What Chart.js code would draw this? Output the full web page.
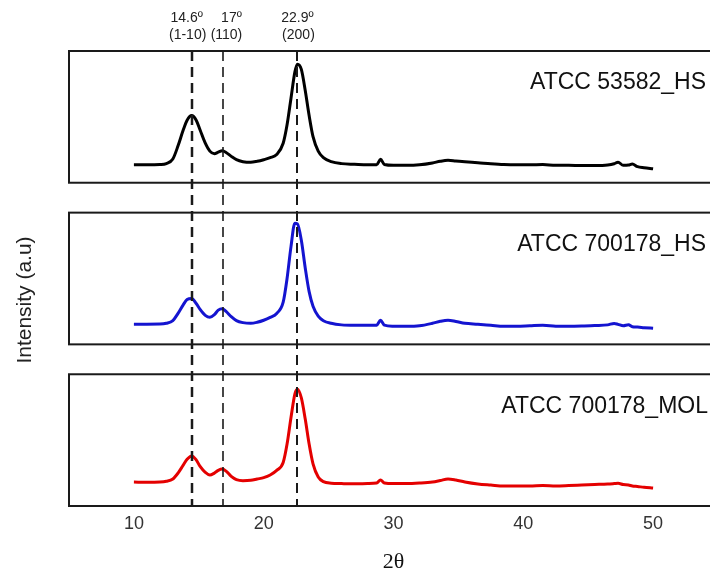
<!DOCTYPE html>
<html>
<head>
<meta charset="utf-8">
<script src="https://cdn.jsdelivr.net/npm/chart.js@4.4.1/dist/chart.umd.min.js"></script>
<style>
  html, body { margin: 0; padding: 0; background: #fff; overflow: hidden; }
  #wrap { width: 710px; height: 572px; overflow: hidden; }
</style>
</head>
<body>
<div id="wrap"><canvas id="xrd" width="740" height="572"></canvas></div>
<script>
// 2θ positions (degrees) shared by the three diffractograms
const twoTheta = [10, 11, 12, 12.5, 13, 13.4, 13.8, 14.1, 14.45, 14.8, 15.1, 15.5, 15.85, 16.2, 16.5, 16.8, 17.1, 17.5, 17.9, 18.4,
  19, 19.5, 20, 20.5, 21, 21.5, 21.8, 22.1, 22.4, 22.6, 22.9, 23.2, 23.5, 23.8, 24.2, 24.6, 25.2, 26, 27, 28,
  28.7, 29, 29.3, 30, 31, 32, 33, 33.6, 34.2, 34.8, 35.5, 36.5, 37.5, 38.5, 39.5, 40.5, 41.5, 42.5, 43.5, 44.5,
  45.5, 46.5, 47, 47.3, 47.7, 48.1, 48.4, 48.8, 49.3, 50]

// intensities (a.u.), each panel scaled 0-100
const hs53582 = [13.6, 13.6, 13.8, 14.5, 18, 28, 40, 47.5, 51, 47.5, 40, 30, 24, 22, 23.2, 24.2, 23, 20, 17.5, 16,
  15.5, 16.3, 17.5, 19, 21.5, 30, 44, 64, 84, 90, 86, 70, 51, 35, 24, 19, 16, 14.5, 14, 13.6,
  13.6, 17.8, 13.8, 13.2, 13.2, 13.6, 15, 16.3, 17, 16.5, 15.9, 15.2, 14.4, 13.8, 13.6, 13.6, 13.8, 13.2, 13.2, 13,
  13, 13.4, 14.4, 15.6, 13.2, 13.4, 14.2, 12.2, 11.4, 10.6]
const hs700178 = [15.3, 15.3, 15.4, 16, 18, 23.5, 30, 34, 34.8, 31, 26.5, 22, 20.5, 22.5, 26, 27, 25, 21, 18, 16.5,
  16, 16.8, 18.3, 20.5, 23.5, 32, 50, 74, 92, 91.5, 79, 58, 40, 29, 21.5, 18, 16, 14.8, 14.5, 14.5,
  14.6, 18.3, 14.6, 13.8, 13.7, 14.1, 16, 17.5, 18.3, 17.4, 16, 15.3, 14.5, 13.7, 13.7, 14.1, 14.5, 13.8, 13.7, 13.9,
  14.3, 14.8, 15.9, 15.2, 14.1, 14.9, 13.4, 13.1, 12.7, 12.2]
const mol700178 = [18.2, 18, 18.2, 18.8, 20.5, 25, 31, 35.5, 38, 35, 30, 25.5, 23.5, 25, 27, 28, 26.5, 22.5, 20, 19.2,
  19.5, 20.5, 21.5, 23.5, 27, 33, 47, 67, 85, 88.6, 82, 66, 47, 32, 22, 18.5, 17.3, 17, 16.8, 17,
  17.4, 19.7, 17.4, 17, 17, 17.4, 18.2, 19.3, 20.5, 19.7, 18.2, 16.7, 15.9, 15.2, 15.2, 15.2, 15.6, 15.2, 15.5, 15.9,
  16.3, 16.7, 17, 17.2, 16.3, 16, 15.2, 14.8, 14.2, 13.6]

const sampleNames = ["ATCC 53582_HS", "ATCC 700178_HS", "ATCC 700178_MOL"]
const sampleColors = ["#000000", "#1414d0", "#e40000"]
const xTickValues = [10, 20, 30, 40, 50]

// reference reflections
const refLinePos = [14.45, 16.9, 22.6]
const refAngles = ["14.6º", "17º", "22.9º"]
const refPlanes = ["(1-10)", "(110)", "(200)"]

const PANEL = 100
const GAP = 22.7
const panelBase = i => (2 - i) * (PANEL + GAP)
const series = [hs53582, hs700178, mol700178]

const panelPlugin = {
  id: "panels",
  afterDatasetsDraw(chart) {
    const { ctx, chartArea, scales: { x, y } } = chart
    ctx.save()
    // panel boxes
    ctx.strokeStyle = "#1a1a1a"
    ctx.lineWidth = 2
    series.forEach((s, i) => {
      const top = y.getPixelForValue(panelBase(i) + PANEL)
      const bot = y.getPixelForValue(panelBase(i))
      ctx.strokeRect(chartArea.left, top, chartArea.right - chartArea.left, bot - top)
    })
    // dashed reflection lines
    const widths = [2.5, 1.6, 2]
    ctx.setLineDash([10, 6])
    refLinePos.forEach((p, k) => {
      const px = Math.round(x.getPixelForValue(p))
      ctx.lineWidth = widths[k]
      ctx.beginPath()
      ctx.moveTo(px, chartArea.top)
      ctx.lineTo(px, chartArea.bottom)
      ctx.stroke()
    })
    ctx.setLineDash([])
    // reflection labels above the top panel
    const nudge = [[-5, -4], [8, 3], [0, 1]]
    ctx.fillStyle = "#222"
    ctx.font = "14px 'Liberation Sans', Arial"
    ctx.textAlign = "center"
    ctx.textBaseline = "middle"
    refLinePos.forEach((p, k) => {
      const px = x.getPixelForValue(p)
      ctx.fillText(refAngles[k], px + nudge[k][0], chartArea.top - 33)
      ctx.fillText(refPlanes[k], px + nudge[k][1], chartArea.top - 16)
    })
    // sample names
    ctx.fillStyle = "#111"
    ctx.font = "23px 'Liberation Sans', Arial"
    ctx.textAlign = "right"
    sampleNames.forEach((name, i) => {
      const top = y.getPixelForValue(panelBase(i) + PANEL)
      ctx.fillText(name, chartArea.right - (i === 2 ? 10 : 12), top + 32)
    })
    // y axis title
    ctx.translate(25, 300)
    ctx.rotate(-Math.PI / 2)
    ctx.fillStyle = "#222"
    ctx.font = "21px 'Liberation Sans', Arial"
    ctx.textAlign = "center"
    ctx.fillText("Intensity (a.u)", 0, 0)
    ctx.restore()
  }
}

new Chart(document.getElementById("xrd"), {
  type: "line",
  data: {
    datasets: series.map((vals, i) => ({
      label: sampleNames[i],
      data: twoTheta.map((t, k) => ({ x: t, y: vals[k] + panelBase(i) })),
      borderColor: sampleColors[i],
      borderWidth: 3,
      pointRadius: 0,
      cubicInterpolationMode: "monotone",
      fill: false
    }))
  },
  options: {
    responsive: false,
    animation: false,
    layout: { padding: { top: 51, right: 22, bottom: 0, left: 0 } },
    plugins: { legend: { display: false }, tooltip: { enabled: false } },
    scales: {
      x: {
        type: "linear",
        min: 5,
        max: 55,
        grid: { display: false, drawTicks: false },
        border: { display: false },
        afterBuildTicks: s => { s.ticks = xTickValues.map(v => ({ value: v })) },
        afterFit: s => { s.height = 66 },
        ticks: { font: { family: "'Liberation Sans', Arial", size: 18 }, color: "#333", padding: 7 },
        title: {
          display: true,
          text: "2θ",
          font: { family: "'Liberation Serif', 'Times New Roman', serif", size: 22 },
          color: "#111",
          padding: { top: 0, bottom: -3 }
        }
      },
      y: {
        min: 0,
        max: 3 * PANEL + 2 * GAP,
        display: true,
        grid: { display: false, drawTicks: false },
        border: { display: false },
        ticks: { display: false },
        afterFit: s => { s.width = 69 }
      }
    }
  },
  plugins: [panelPlugin]
})
</script>
</body>
</html>
